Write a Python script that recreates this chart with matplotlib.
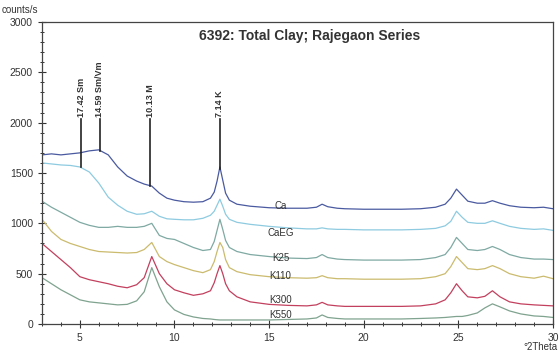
import matplotlib
matplotlib.use("Agg")
import matplotlib.pyplot as plt
from matplotlib.ticker import MultipleLocator

plt.rcParams['font.family'] = ['Liberation Sans', 'DejaVu Sans']

two_theta = [3, 3.5, 4, 4.5, 5, 5.5, 6, 6.5, 7, 7.5, 8, 8.4, 8.8, 9.2, 9.6, 10, 10.5, 11, 11.5,
             11.9, 12.1, 12.25, 12.4, 12.55, 12.7, 12.9, 13.3, 14, 15, 16, 17, 17.5, 17.8, 18.1,
             18.6, 19, 20, 21, 22, 23, 23.8, 24.3, 24.6, 24.9, 25.2, 25.5, 26, 26.4, 26.8, 27.2,
             27.7, 28.3, 29, 29.5, 30]

ca = [1680, 1690, 1680, 1690, 1700, 1720, 1730, 1680, 1560, 1470, 1420, 1390, 1370, 1300, 1250,
      1230, 1215, 1210, 1215, 1250, 1310, 1420, 1560, 1430, 1300, 1230, 1190, 1170, 1155, 1150,
      1150, 1160, 1190, 1165, 1150, 1145, 1140, 1140, 1140, 1145, 1160, 1190, 1250, 1340, 1280,
      1220, 1200, 1200, 1225, 1200, 1175, 1160, 1155, 1160, 1145]
caeg = [1600, 1590, 1580, 1575, 1560, 1510, 1400, 1260, 1180, 1120, 1090, 1095, 1120, 1070, 1045,
        1040, 1035, 1035, 1050, 1080, 1120, 1180, 1240, 1170, 1090, 1040, 1010, 990, 970, 955,
        945, 945, 955, 945, 940, 940, 935, 935, 935, 940, 950, 975, 1020, 1120, 1060,
        1010, 1000, 1000, 1025, 1000, 970, 950, 940, 945, 930]
k25 = [1220, 1160, 1110, 1060, 1010, 980, 960, 960, 970, 960, 960, 970, 1000, 880, 850,
       840, 800, 760, 730, 740, 820, 930, 1040, 940, 830, 760, 720, 690, 670, 655,
       650, 660, 690, 660, 645, 640, 635, 635, 635, 640, 660, 690, 760, 860, 800,
       740, 730, 740, 770, 740, 690, 660, 645, 645, 640]
k110 = [1040, 920, 840, 800, 770, 740, 720, 715, 710, 705, 710, 740, 810, 670, 620,
        590, 560, 530, 510, 540, 620, 720, 810, 760, 640, 560, 520, 490, 470, 460,
        455, 460, 480, 460, 450, 450, 445, 445, 445, 450, 470, 500, 570, 670, 610,
        550, 540, 550, 580, 550, 500, 470, 455, 475, 450]
k300 = [800, 720, 640, 560, 470, 440, 420, 400, 375, 360, 390, 460, 670, 500, 400,
        340, 310, 285, 300, 330, 410, 500, 580, 500, 400, 330, 270, 220, 195, 185,
        180, 190, 215, 190, 180, 175, 175, 175, 175, 180, 200, 240, 310, 400, 330,
        270, 260, 275, 330, 270, 220, 200, 190, 185, 180]
k550 = [460, 400, 340, 290, 240, 220, 210, 200, 190, 195, 230, 320, 560, 370, 220,
        140, 95, 70, 55, 50, 45, 42, 40, 40, 40, 40, 40, 40, 40, 45,
        50, 60, 90, 65, 55, 50, 50, 50, 50, 55, 60, 65, 70, 75, 75,
        85, 110, 160, 200, 170, 130, 100, 80, 75, 65]

series_names = ["Ca", "CaEG", "K25", "K110", "K300", "K550"]
series_vals = [ca, caeg, k25, k110, k300, k550]
series_colors = ["#4a5aa0", "#8ecbe0", "#7fa9a2", "#cbbb6e", "#c2405e", "#7fa38f"]
label_x = [15.6, 15.6, 15.6, 15.6, 15.6, 15.6]
label_y = [1170, 900, 660, 480, 240, 90]

peak_pos = [5.07, 6.05, 8.72, 12.39]
peak_labels = ["17.42 Sm", "14.59 Sm/Vm", "10.13 M", "7.14 K"]
peak_bottom = [1560, 1720, 1370, 1540]
peak_top = 2040

fig = plt.figure(figsize=(5.6, 3.54), dpi=100)
ax = fig.add_axes([42/560, 1 - 324/354, (553-42)/560, (324-22)/354])

for name, vals, col in zip(series_names, series_vals, series_colors):
    ax.plot(two_theta, vals, color=col, lw=0.9)

for n, lx, ly in zip(series_names, label_x, label_y):
    ax.text(lx, ly, n, fontsize=7, color="#333333", ha="center", va="center")

for p, lab, b in zip(peak_pos, peak_labels, peak_bottom):
    ax.plot([p, p], [b, peak_top], color="#222222", lw=1.2)
    ax.text(p, peak_top + 20, lab, rotation=90, ha="center", va="bottom",
            fontsize=6.5, fontweight="bold", color="#333333")

ax.text(0.524, 0.955, "6392: Total Clay; Rajegaon Series", transform=ax.transAxes,
        ha="center", va="center", fontsize=10, fontweight="bold", color="#333333")

ax.set_xlim(3, 30)
ax.set_ylim(0, 3000)
ax.xaxis.set_major_locator(MultipleLocator(5))
ax.xaxis.set_minor_locator(MultipleLocator(1))
ax.yaxis.set_major_locator(MultipleLocator(500))
ax.yaxis.set_minor_locator(MultipleLocator(100))
ax.tick_params(which="major", direction="inout", length=6, width=0.8, labelsize=7.5,
               colors="#333333")
ax.tick_params(which="minor", direction="inout", length=3.5, width=0.7, colors="#333333")
for s in ax.spines.values():
    s.set_color("#444444")
    s.set_linewidth(0.9)

fig.text(2/560, 1 - 10/354, "counts/s", fontsize=7, ha="left", va="center", color="#333333")
fig.text(558/560, 1 - 347/354, "°2Theta", fontsize=7, ha="right", va="center", color="#333333")

fig.savefig("out.png", dpi=100)
